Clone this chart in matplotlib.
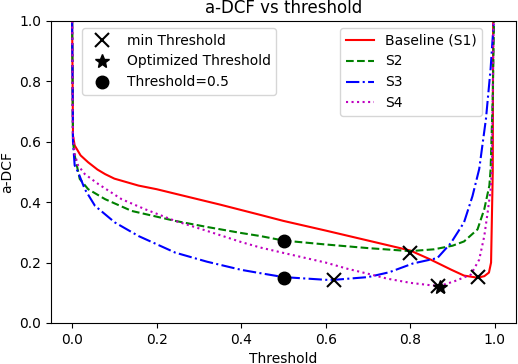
import numpy as np
import matplotlib
matplotlib.use("Agg")
from matplotlib import pyplot as plt
from matplotlib.lines import Line2D

# curves (threshold, a-DCF)
s1_x = [0.0, 0.002, 0.006, 0.02, 0.038, 0.06, 0.078, 0.1, 0.157, 0.2, 0.244, 0.35, 0.445, 0.5, 0.6,
        0.7, 0.8, 0.848, 0.896, 0.927, 0.959, 0.975, 0.986, 0.991, 0.995, 0.996]
s1_y = [1.0, 0.62, 0.588, 0.555, 0.532, 0.508, 0.493, 0.478, 0.455, 0.443, 0.428, 0.392, 0.358, 0.338,
        0.306, 0.273, 0.24, 0.21, 0.177, 0.157, 0.15, 0.155, 0.167, 0.2, 0.5, 1.0]

s2_x = [0.0, 0.002, 0.006, 0.018, 0.038, 0.078, 0.141, 0.244, 0.319, 0.4, 0.445, 0.5, 0.6, 0.7,
        0.8, 0.856, 0.9, 0.927, 0.959, 0.975, 0.987, 0.99, 0.995, 0.998]
s2_y = [1.0, 0.6, 0.555, 0.477, 0.443, 0.41, 0.371, 0.338, 0.318, 0.298, 0.288, 0.273, 0.26, 0.248,
        0.238, 0.244, 0.256, 0.27, 0.31, 0.377, 0.455, 0.51, 0.75, 1.0]

s3_x = [0.0, 0.002, 0.006, 0.014, 0.03, 0.054, 0.101, 0.157, 0.244, 0.319, 0.4, 0.445, 0.5, 0.6,
        0.62, 0.7, 0.75, 0.806, 0.864, 0.896, 0.927, 0.947, 0.963, 0.979, 0.99, 0.997]
s3_y = [1.0, 0.6, 0.522, 0.5, 0.443, 0.388, 0.333, 0.288, 0.233, 0.203, 0.176, 0.165, 0.152, 0.143,
        0.143, 0.152, 0.168, 0.197, 0.215, 0.265, 0.333, 0.42, 0.51, 0.677, 0.843, 0.99]

s4_x = [0.0, 0.002, 0.006, 0.014, 0.03, 0.062, 0.117, 0.172, 0.244, 0.319, 0.4, 0.445, 0.5, 0.6,
        0.65, 0.7, 0.745, 0.8, 0.848, 0.87, 0.904, 0.943, 0.963, 0.975, 0.983, 0.99, 0.993, 0.997]
s4_y = [1.0, 0.62, 0.56, 0.522, 0.493, 0.46, 0.41, 0.377, 0.338, 0.305, 0.268, 0.25, 0.232, 0.2,
        0.18, 0.163, 0.147, 0.133, 0.125, 0.123, 0.138, 0.16, 0.21, 0.288, 0.367, 0.443, 0.51, 1.0]

# marker positions
min_x = [0.959, 0.80, 0.62, 0.865]
min_y = [0.152, 0.233, 0.143, 0.123]
opt_x = [0.87]
opt_y = [0.12]
half_x = [0.5, 0.5]
half_y = [0.273, 0.15]

plt.rcParams['font.size'] = 10
fig = plt.figure(figsize=(5.18, 3.64), dpi=100)
ax = fig.add_axes([51/518, 41/364, 465/518, 302/364])

ax.plot(s1_x, s1_y, color='red', lw=1.5, label='Baseline (S1)')
ax.plot(s2_x, s2_y, color='green', lw=1.5, ls='--', label='S2')
ax.plot(s3_x, s3_y, color='blue', lw=1.5, ls='-.', label='S3')
ax.plot(s4_x, s4_y, color='m', lw=1.5, ls=':', label='S4')

ax.plot(min_x, min_y, 'x', color='black', ms=10, mew=1.5, ls='none')
ax.plot(opt_x, opt_y, '*', color='black', ms=10, ls='none')
ax.plot(half_x, half_y, 'o', color='black', ms=9, ls='none')

ax.set_ylim(0, 1.0)
ax.set_xlim(-0.05, 1.05)
ax.set_title('a-DCF vs threshold')
ax.set_xlabel('Threshold')
ax.set_ylabel('a-DCF')

leg2 = ax.legend(loc='upper right', bbox_to_anchor=(0.927, 0.977), borderaxespad=0)
ax.add_artist(leg2)
marker_handles = [
    Line2D([], [], marker='x', color='black', ls='none', ms=10, mew=1.5),
    Line2D([], [], marker='*', color='black', ls='none', ms=10),
    Line2D([], [], marker='o', color='black', ls='none', ms=9),
]
ax.legend(marker_handles, ['min Threshold', 'Optimized Threshold', 'Threshold=0.5'],
          loc='upper left', bbox_to_anchor=(0.067, 0.977), borderaxespad=0)

fig.savefig('out.png', dpi=100)
